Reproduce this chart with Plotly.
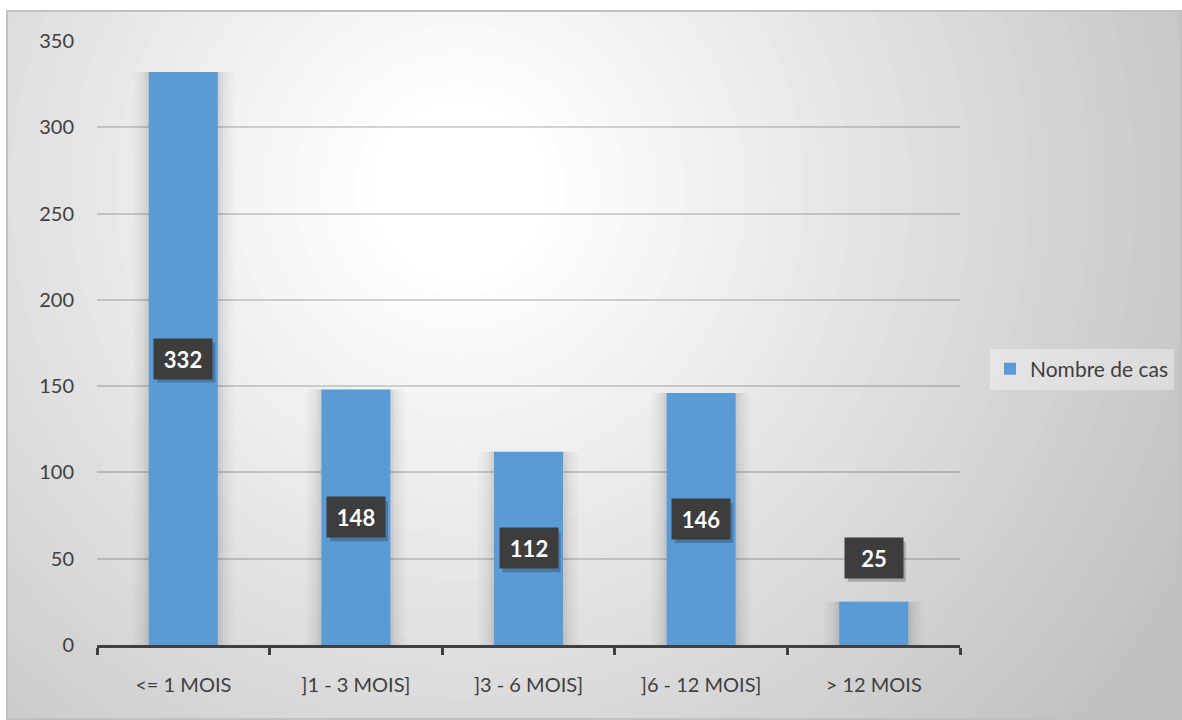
import plotly.graph_objects as go

# Durée -> nombre de cas
categories = ["<= 1 MOIS", "]1 - 3 MOIS]", "]3 - 6 MOIS]", "]6 - 12 MOIS]", "> 12 MOIS"]
counts = [332, 148, 112, 146, 25]
y_tick_values = [0, 50, 100, 150, 200, 250, 300, 350]
series_name = "Nombre de cas"

W, H = 1182, 720
L, R, T, B = 97, 222, 41, 75
PW, PH = W - L - R, H - T - B
Y_MAX = 350

BAR_COLOR = "#5B9BD5"
TEXT_COLOR = "#404040"
FONT = "Lato"
BOX_W, BOX_H = 58, 40


def px_x(px):
    return (px - L) / PW


def px_y(py):
    return (H - B - py) / PH


fig = go.Figure()

# soft halo around each column
for w, a in [(0.58, 0.015), (0.54, 0.02), (0.5, 0.025), (0.46, 0.03), (0.43, 0.035)]:
    fig.add_trace(go.Bar(
        x=categories, y=counts, width=w,
        marker=dict(color=f"rgba(0,0,0,{a})", line=dict(width=0)),
        showlegend=False, hoverinfo="skip",
    ))

fig.add_trace(go.Bar(
    x=categories, y=counts, width=0.4, name=series_name,
    marker=dict(color=BAR_COLOR, line=dict(width=0)),
))

# radial background shading of the chart area
shapes = []
cx, cy = 460, 190
for r in range(900, 70, -15):
    t = min(1.0, max(0.0, (r - 90) / 760))
    c = int(round(255 - 64 * t))
    shapes.append(dict(
        type="circle", xref="paper", yref="paper", layer="below",
        x0=px_x(cx - r), x1=px_x(cx + r), y0=px_y(cy + r), y1=px_y(cy - r),
        fillcolor=f"rgb({c},{c},{c})", line=dict(width=0),
    ))
# white surround outside the chart frame
shapes.append(dict(type="rect", xref="paper", yref="paper", layer="below",
                   x0=px_x(-50), x1=px_x(W + 50), y0=px_y(11), y1=px_y(-50),
                   fillcolor="white", line=dict(width=0)))
shapes.append(dict(type="rect", xref="paper", yref="paper", layer="below",
                   x0=px_x(-50), x1=px_x(7), y0=px_y(H + 50), y1=px_y(-50),
                   fillcolor="white", line=dict(width=0)))
# chart frame
shapes.append(dict(type="rect", xref="paper", yref="paper", layer="below",
                   x0=px_x(7), x1=px_x(1181), y0=px_y(719), y1=px_y(11),
                   fillcolor="rgba(0,0,0,0)", line=dict(color="#c0c0c0", width=2)))

# value labels: dark box with drop shadow, centred in the column
# or placed above it when the column is too short
annotations = []
px_per_unit = PH / Y_MAX
for cat, v in zip(categories, counts):
    inside = v * px_per_unit >= 60
    y = v / 2 if inside else v
    center_shift = 0 if inside else 24 + BOX_H / 2
    shapes.append(dict(
        type="rect", xref="x", yref="y", layer="above",
        xsizemode="pixel", ysizemode="pixel", xanchor=cat, yanchor=y,
        x0=-BOX_W / 2 + 3, x1=BOX_W / 2 + 3,
        y0=center_shift - BOX_H / 2 - 4, y1=center_shift + BOX_H / 2 - 4,
        fillcolor="rgba(0,0,0,0.22)", line=dict(width=0),
    ))
    annotations.append(dict(
        x=cat, y=y, xref="x", yref="y", showarrow=False,
        width=BOX_W, height=BOX_H, borderpad=0, yanchor="middle",
        yshift=center_shift, align="center", valign="middle",
        text=f"<b>{v}</b>", bgcolor="#3d3d3d",
        font=dict(family=FONT, size=22, color="white"),
    ))

fig.update_layout(
    width=W, height=H,
    margin=dict(l=L, r=R, t=T, b=B, autoexpand=False),
    paper_bgcolor="white",
    plot_bgcolor="rgba(0,0,0,0)",
    barmode="overlay",
    shapes=shapes,
    annotations=annotations,
    font=dict(family=FONT, size=20, color=TEXT_COLOR),
    showlegend=True,
    legend=dict(
        x=px_x(990), y=px_y(369), xanchor="left", yanchor="middle",
        bgcolor="rgba(255,255,255,0.35)", borderwidth=0,
        font=dict(family=FONT, size=21, color=TEXT_COLOR),
        itemclick=False,
    ),
    xaxis=dict(
        type="category", range=[-0.5, 4.5],
        showline=True, linecolor=TEXT_COLOR, linewidth=2.5,
        ticks="outside", tickson="boundaries", ticklen=7, tickwidth=2.5,
        tickcolor=TEXT_COLOR, ticklabelstandoff=20,
        showgrid=False, zeroline=False,
        tickfont=dict(family=FONT, size=20, color=TEXT_COLOR),
    ),
    yaxis=dict(
        range=[0, Y_MAX], tickvals=y_tick_values,
        showline=False, zeroline=False,
        showgrid=True, gridcolor="rgba(0,0,0,0.16)", gridwidth=2,
        ticks="", ticklabelstandoff=22,
        tickfont=dict(family=FONT, size=20, color=TEXT_COLOR),
    ),
)

fig.write_html("out.html")
